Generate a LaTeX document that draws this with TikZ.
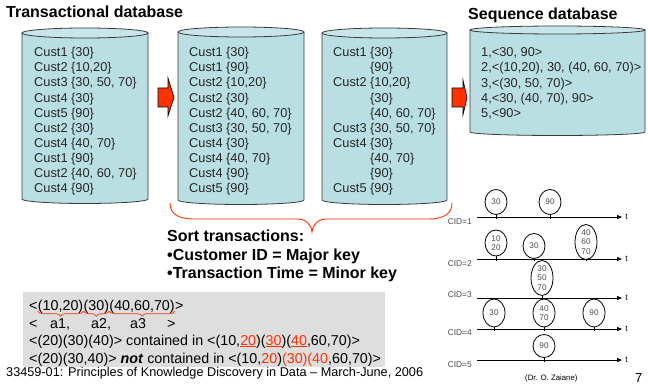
\documentclass[tikz,border=0pt]{standalone}
\usepackage{fontspec}
\setmainfont{Liberation Sans}
\usetikzlibrary{arrows.meta,positioning,calc,shapes.geometric,decorations.pathreplacing}
\definecolor{drumbody}{HTML}{B9DFE2}
\definecolor{drumtop}{HTML}{C8E6E9}
\definecolor{drumline}{HTML}{3A3A3A}
\definecolor{hotred}{HTML}{FF3300}
\definecolor{boxgray}{HTML}{DEDEDE}
\newcommand{\ulred}[1]{\textcolor{hotred}{\setbox0\hbox{#1}\rlap{\rule[-2.4pt]{\wd0}{1.6pt}}\box0}}

\begin{document}
\begin{tikzpicture}[
  x=1pt, y=-1pt,
  drum/.style={draw=drumline, line width=0.8pt, fill=drumbody},
  drumlid/.style={draw=drumline, line width=0.8pt, fill=drumtop},
  dbtext/.style={anchor=north west, inner sep=0pt, align=left, text=black!85,
    font=\fontsize{12.8}{15.1}\selectfont},
  heading/.style={anchor=base west, inner sep=0pt, font=\bfseries\fontsize{16}{19}\selectfont},
  blockarrow/.style={draw=black, line width=0.6pt, fill=hotred},
  boxtext/.style={anchor=base west, inner sep=0pt, font=\fontsize{14.3}{17}\selectfont},
  smallbrace/.style={draw=hotred, line width=0.7pt, decorate, decoration={brace, mirror, amplitude=5pt}},
  tline/.style={line width=0.8pt, -{Triangle[length=5pt, width=4pt]}},
  event/.style={draw, ellipse, line width=0.8pt, minimum width=22pt, inner sep=0pt, align=center,
    text=black!70, font=\fontsize{8.2}{9.5}\selectfont},
  stem/.style={line width=0.8pt},
  cid/.style={anchor=east, inner sep=0pt, text=black!70, font=\fontsize{8.4}{10}\selectfont},
  tlabel/.style={anchor=west, inner sep=0pt, xshift=3pt, font=\fontsize{8.4}{10}\selectfont}
  ]

\useasboundingbox (0,0) rectangle (648,390);

\node[heading] (ttrans) at (6,18) {Transactional database};
\node[heading] (tseq) at (468,19.5) {Sequence database};

\draw[drum] (22,33) -- (22,199) arc[start angle=180, end angle=360, x radius=63pt, y radius=4.5pt] -- (148,33);
\draw[drumlid] (85,33) ellipse[x radius=63pt, y radius=5pt];
\draw[drum] (178,32) -- (178,200) arc[start angle=180, end angle=360, x radius=63pt, y radius=4.5pt] -- (304,32);
\draw[drumlid] (241,32) ellipse[x radius=63pt, y radius=5pt];
\draw[drum] (322,33) -- (322,200) arc[start angle=180, end angle=360, x radius=62.5pt, y radius=4.5pt] -- (447,33);
\draw[drumlid] (384.5,33) ellipse[x radius=62.5pt, y radius=5pt];
\draw[drum] (470,30) -- (470,132) arc[start angle=180, end angle=360, x radius=87.5pt, y radius=3.5pt] -- (645,30);
\draw[drumlid] (557.5,30) ellipse[x radius=87.5pt, y radius=4pt];

\node[dbtext] (raw) at (34,47.3) {Cust1 \{30\}\\Cust2 \{10,20\}\\Cust3 \{30, 50, 70\}\\Cust4 \{30\}\\Cust5 \{90\}\\
  Cust2 \{30\}\\Cust4 \{40, 70\}\\Cust1 \{90\}\\Cust2 \{40, 60, 70\}\\Cust4 \{90\}};
\node[dbtext] (sorted) at (189,47.3) {Cust1 \{30\}\\Cust1 \{90\}\\Cust2 \{10,20\}\\Cust2 \{30\}\\Cust2 \{40, 60, 70\}\\
  Cust3 \{30, 50, 70\}\\Cust4 \{30\}\\Cust4 \{40, 70\}\\Cust4 \{90\}\\Cust5 \{90\}};
\node[dbtext] (grouped) at (333,47.3) {Cust1 \{30\}\\\hphantom{Cust1\ }\{90\}\\Cust2 \{10,20\}\\\hphantom{Cust1\ }\{30\}\\
  \hphantom{Cust1\ }\{40, 60, 70\}\\Cust3 \{30, 50, 70\}\\Cust4 \{30\}\\\hphantom{Cust1\ }\{40, 70\}\\
  \hphantom{Cust1\ }\{90\}\\Cust5 \{90\}};
\node[dbtext, font=\fontsize{12.8}{15.2}\selectfont] (seqs) at (481,47.5) {1,<30, 90>\\2,<(10,20), 30, (40, 60, 70)>\\
  3,<(30, 50, 70)>\\4,<30, (40, 70), 90>\\5,<90>};

\draw[blockarrow] (158,88) -- (168,88) -- (168,78) -- (174,97.5) -- (168,116) -- (168,107) -- (158,107) -- cycle;
\draw[blockarrow] (452,88) -- (463,88) -- (463,80) -- (467,97.5) -- (463,115) -- (463,107) -- (452,107) -- cycle;

\draw[hotred, line width=0.9pt] (170,203) .. controls (170,214) and (178,219) .. (195,219) -- (297,219)
  .. controls (306,219) and (311,224) .. (312,232) .. controls (313,224) and (318,219) .. (327,219)
  -- (428,219) .. controls (445,219) and (452,213) .. (452,203);

\node[heading] (sort1) at (167,241) {Sort transactions:};
\node[heading] (sort2) at (167,261) {\textbullet Customer ID = Major key};
\node[heading] (sort3) at (167,279) {\textbullet Transaction Time = Minor key};

\fill[boxgray] (23,292) rectangle (385,367);

\node[boxtext] (lt) at (29,310) {<};
\node[boxtext] (g1) at (lt.base east) {(10,20)};
\node[boxtext] (g2) at (g1.base east) {(30)};
\node[boxtext] (g3) at (g2.base east) {(40,60,70)};
\node[boxtext] (gt) at (g3.base east) {>};
\draw[smallbrace] ([yshift=2pt]g1.south west) -- ([yshift=2pt]g1.south east);
\draw[smallbrace] ([yshift=2pt]g2.south west) -- ([yshift=2pt]g2.south east);
\draw[smallbrace] ([yshift=2pt]g3.south west) -- ([yshift=2pt]g3.south east);

\node[boxtext] (al) at (29,328) {<};
\node[boxtext] (a1) at (50,328) {a1,};
\node[boxtext] (a2) at (91,328) {a2,};
\node[boxtext] (a3) at (130,328) {a3};
\node[boxtext] (ar) at (167,328) {>};

\node[boxtext] (yes) at (29,345) {<(20)(30)(40)> contained in <(10,\ulred{20})(\ulred{30})(\ulred{40},60,70)>};
\node[boxtext] (no) at (29,363) {<(20)(30,40)> \textbf{\textit{not}} contained in
  <(10,\textcolor{hotred}{20})\textcolor{hotred}{(30)(40},60,70)>};

\coordinate (c1s) at (477,217);
\coordinate (c1e) at (622,217);
\coordinate (c2s) at (477,259);
\coordinate (c2e) at (622,259);
\coordinate (c3s) at (477,298);
\coordinate (c3e) at (622,298);
\coordinate (c4s) at (477,329);
\coordinate (c4e) at (622,329);
\coordinate (c5s) at (477,360);
\coordinate (c5e) at (622,360);

\draw[tline] (c1s) -- (c1e) node[tlabel] (t1) {t};
\draw[tline] (c2s) -- (c2e) node[tlabel] (t2) {t};
\draw[tline] (c3s) -- (c3e) node[tlabel] (t3) {t};
\draw[tline] (c4s) -- (c4e) node[tlabel] (t4) {t};
\draw[tline] (c5s) -- (c5e) node[tlabel] (t5) {t};

\node[cid] (cid1) at (472,222) {CID=1};
\node[cid] (cid2) at (472,264) {CID=2};
\node[cid] (cid3) at (472,295) {CID=3};
\node[cid] (cid4) at (472,333) {CID=4};
\node[cid] (cid5) at (472,365) {CID=5};

\node[event, minimum height=25pt] (e11) at (496,202) {30};
\node[event, minimum height=25pt] (e12) at (550,202) {90};
\node[event, minimum height=26pt] (e21) at (496,243) {10\\20};
\node[event, minimum height=25pt] (e22) at (534,246) {30};
\node[event, minimum height=30pt] (e23) at (586,242) {40\\60\\70};
\node[event, minimum height=30pt] (e31) at (542,278) {30\\50\\70};
\node[event, minimum height=28pt] (e41) at (494,313) {30};
\node[event, minimum height=28pt] (e42) at (544,313) {40\\70};
\node[event, minimum height=28pt] (e43) at (594,313) {90};
\node[event, minimum height=23pt] (e51) at (544,346) {90};

\draw[stem] (e11.south) -- ([yshift=-2pt]e11.south |- c1s);
\draw[stem] (e12.south) -- ([yshift=-2pt]e12.south |- c1s);
\draw[stem] (e21.south) -- ([yshift=-2pt]e21.south |- c2s);
\draw[stem] (e22.south) -- ([yshift=-2pt]e22.south |- c2s);
\draw[stem] (e23.south) -- ([yshift=-2pt]e23.south |- c2s);
\draw[stem] (e31.south) -- ([yshift=-2pt]e31.south |- c3s);
\draw[stem] (e41.south) -- ([yshift=-2pt]e41.south |- c4s);
\draw[stem] (e42.south) -- ([yshift=-2pt]e42.south |- c4s);
\draw[stem] (e43.south) -- ([yshift=-2pt]e43.south |- c4s);
\draw[stem] (e51.south) -- ([yshift=-2pt]e51.south |- c5s);

\node[anchor=base west, inner sep=0pt, font=\fontsize{12.7}{15}\selectfont] (foot) at (6,376.5)
  {33459-01: Principles of Knowledge Discovery in Data \textendash{} March-June, 2006};
\node[anchor=base west, inner sep=0pt, font=\fontsize{7.8}{9}\selectfont] (author) at (525,380) {(Dr. O. Zaiane)};
\node[anchor=base west, inner sep=0pt, font=\fontsize{13}{15}\selectfont] (page) at (635,382) {7};

\end{tikzpicture}
\end{document}
